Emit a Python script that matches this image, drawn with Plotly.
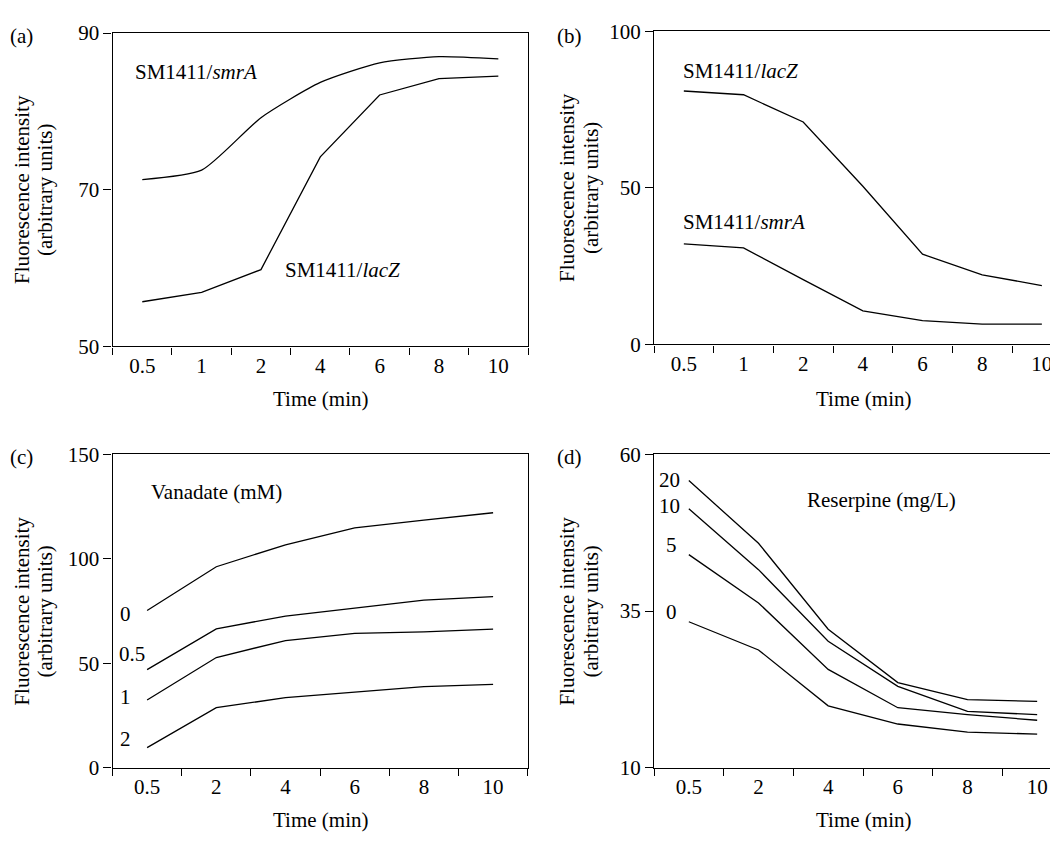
import plotly.graph_objects as go

# ---------------- data ----------------
times_ab = ["0.5", "1", "2", "4", "6", "8", "10"]
times_cd = ["0.5", "2", "4", "6", "8", "10"]

a_smrA = [71.3, 72.5, 79.2, 83.7, 86.2, 87.0, 86.7]
a_lacZ = [55.7, 56.9, 59.8, 74.2, 82.1, 84.2, 84.5]

b_lacZ = [80.9, 79.7, 71.0, 50.5, 28.8, 22.2, 18.8]
b_smrA = [32.1, 30.8, 20.7, 10.7, 7.6, 6.5, 6.5]

c_names = ["0", "0.5", "1", "2"]
c_vals = [
    [75.3, 96.2, 106.7, 114.8, 118.5, 122.0],
    [47.0, 66.5, 72.6, 76.4, 80.2, 81.9],
    [32.5, 52.8, 60.9, 64.3, 65.1, 66.4],
    [9.7, 28.8, 33.6, 36.4, 38.9, 40.0],
]

d_names = ["20", "10", "5", "0"]
d_vals = [
    [55.8, 45.8, 32.1, 23.6, 20.9, 20.6],
    [51.3, 41.6, 30.2, 23.0, 19.0, 18.5],
    [44.0, 36.3, 25.7, 19.6, 18.5, 17.6],
    [33.3, 28.8, 19.9, 17.0, 15.7, 15.4],
]

yticks_a = [50, 70, 90]
yticks_b = [0, 50, 100]
yticks_c = [0, 50, 100, 150]
yticks_d = [10, 35, 60]

# ---------------- layout helpers ----------------
# the page body has an 8px margin, so the figure is drawn 8px in from the
# top-left corner of the window; size it to end exactly at the window edge
OFF = 8
W, H = 1058 - OFF, 846 - OFF
FONT = "Liberation Serif"
FS = 21
LW = 1.3


def px(x):
    return (x - OFF) / W


def py(y):
    return 1 - (y - OFF) / H


fig = go.Figure()

line = dict(color="black", width=LW)

fig.add_trace(go.Scatter(x=times_ab, y=a_smrA, mode="lines",
                         line=dict(color="black", width=LW, shape="spline", smoothing=0.6),
                         xaxis="x", yaxis="y", showlegend=False))
fig.add_trace(go.Scatter(x=times_ab, y=a_lacZ, mode="lines", line=line, xaxis="x", yaxis="y", showlegend=False))
fig.add_trace(go.Scatter(x=times_ab, y=b_lacZ, mode="lines", line=line, xaxis="x2", yaxis="y2", showlegend=False))
fig.add_trace(go.Scatter(x=times_ab, y=b_smrA, mode="lines", line=line, xaxis="x2", yaxis="y2", showlegend=False))
for name, vals in zip(c_names, c_vals):
    fig.add_trace(go.Scatter(x=times_cd, y=vals, mode="lines", line=line, name=name,
                             xaxis="x3", yaxis="y3", showlegend=False))
for name, vals in zip(d_names, d_vals):
    fig.add_trace(go.Scatter(x=times_cd, y=vals, mode="lines", line=line, name=name,
                             xaxis="x4", yaxis="y4", showlegend=False))


def xax(cats, dom, rng, mirror, anchor):
    return dict(type="category", categoryorder="array", categoryarray=cats,
                domain=dom, range=rng, showline=True, linecolor="black", linewidth=LW,
                mirror=mirror, ticks="outside", tickson="boundaries", ticklen=7,
                tickwidth=LW, tickcolor="black", showgrid=False, zeroline=False,
                anchor=anchor,
                tickfont=dict(family=FONT, size=FS, color="black"), fixedrange=True)


def yax(dom, rng, tv, anchor, mirror):
    return dict(domain=dom, range=rng, tickvals=tv, showline=True, linecolor="black",
                linewidth=LW, mirror=mirror, ticks="outside", ticklen=8, tickwidth=LW,
                tickcolor="black", showgrid=False, zeroline=False, anchor=anchor,
                tickfont=dict(family=FONT, size=FS, color="black"), fixedrange=True)


# panel geometry (window pixels)
ax_a = (112.6, 528.0)
ay_a = (21.5, 344.0)
ax_b = (654.0, 1058.0)
ay_b = (19.5, 342.0)
ax_c = (112.5, 527.7)
ay_c = (455.0, 778.0)
ax_d = (654.0, 1058.0)
ay_d = (455.0, 778.0)

# panels (b),(d) are clipped at the right edge of the picture
b_range_end = 6.5 - (1071.7 - 1058.0) / 59.67
d_range_end = 5.5 - (1072.0 - 1058.0) / 69.66

fig.update_layout(
    width=W, height=H, margin=dict(l=0, r=0, t=0, b=0),
    paper_bgcolor="white", plot_bgcolor="white",
    font=dict(family=FONT, size=FS, color="black"),
    xaxis=xax(times_ab, [px(ax_a[0]), px(ax_a[1])], [-0.5, 6.5], True, "y"),
    yaxis=yax([py(ay_a[1]), py(ay_a[0])], [50, 90], yticks_a, "x", True),
    xaxis2=xax(times_ab, [px(ax_b[0]), px(ax_b[1])], [-0.5, b_range_end], True, "y2"),
    yaxis2=yax([py(ay_b[1]), py(ay_b[0])], [0, 100], yticks_b, "x2", False),
    xaxis3=xax(times_cd, [px(ax_c[0]), px(ax_c[1])], [-0.5, 5.5], True, "y3"),
    yaxis3=yax([py(ay_c[1]), py(ay_c[0])], [0, 150], yticks_c, "x3", True),
    xaxis4=xax(times_cd, [px(ax_d[0]), px(ax_d[1])], [-0.5, d_range_end], True, "y4"),
    yaxis4=yax([py(ay_d[1]), py(ay_d[0])], [10, 60], yticks_d, "x4", False),
)

ann = []


def text(x, y, t, xanchor="left", angle=0):
    ann.append(dict(x=px(x), y=py(y), xref="paper", yref="paper", text=t, showarrow=False,
                    xanchor=xanchor, yanchor="middle", textangle=angle,
                    font=dict(family=FONT, size=FS, color="black")))


# panel letters
text(21, 24, "(a)", "center")
text(569, 24, "(b)", "center")
text(21, 458, "(c)", "center")
text(569, 458, "(d)", "center")

# y-axis titles (two lines)
for x1, x2, yc in [(22, 45, 183), (567, 591, 181), (22, 45, 617), (567, 591, 617)]:
    text(x1, yc, "Fluorescence intensity", "center", -90)
    text(x2, yc, "(arbitrary units)", "center", -90)

# x-axis titles
text(320, 398, "Time (min)", "center")
text(863, 398, "Time (min)", "center")
text(320, 832, "Time (min)", "center")
text(863, 832, "Time (min)", "center")

# series labels
text(133, 62, "SM1411/<i>smrA</i>")
text(283, 265, "SM1411/<i>lacZ</i>")
text(681, 61, "SM1411/<i>lacZ</i>")
text(681, 216, "SM1411/<i>smrA</i>")

text(149, 494, "Vanadate (mM)")
for lab, x, y in zip(c_names, [125, 132, 125, 125], [619, 661, 705, 748]):
    text(x, y, lab, "center")

text(805, 502, "Reserpine (mg/L)")
for lab, x, y in zip(d_names, [669, 669, 671, 671], [482, 508, 548, 617]):
    text(x, y, lab, "center")

fig.update_layout(annotations=ann)

fig.write_html("out.html")
